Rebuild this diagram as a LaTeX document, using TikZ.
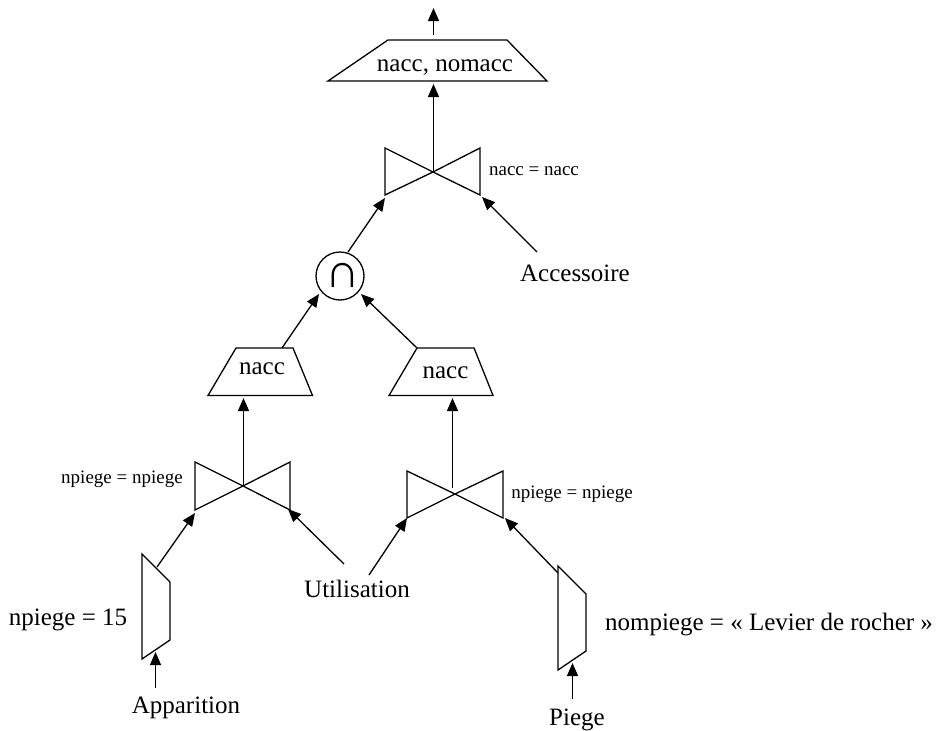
\documentclass[tikz,border=0pt]{standalone}
\usepackage{fontspec}
\setmainfont{Liberation Serif}
\usetikzlibrary{arrows.meta}
\tikzset{
  shapeline/.style={draw=black,line width=1.3pt,line join=miter},
  link/.style={draw=black,line width=1.3pt,-{Triangle[length=13pt,width=11pt]}},
  big/.style={inner sep=0pt,anchor=base,font=\fontsize{25}{28}\selectfont},
  small/.style={inner sep=0pt,anchor=base,font=\fontsize{19}{22}\selectfont},
}
\begin{document}
\begin{tikzpicture}[x=1pt,y=-1pt]
\useasboundingbox (0,0) rectangle (938,731);
% top projection
\coordinate (out) at (433.5,8);
\coordinate (outS) at (433.5,35);
\coordinate (p1a) at (388,40); \coordinate (p1b) at (507,40);
\coordinate (p1c) at (547,81); \coordinate (p1d) at (328,81);
\coordinate (p1in) at (433.5,84);
\draw[shapeline] (p1a) -- (p1b) -- (p1c) -- (p1d) -- cycle;
\node[big] (t1) at (445,71) {nacc, nomacc};
% top join
\coordinate (j1) at (433,172);
\coordinate (j1a) at (385,148); \coordinate (j1b) at (385,195);
\coordinate (j1c) at (480,148); \coordinate (j1d) at (480,195);
\coordinate (j1l) at (385,198); \coordinate (j1r) at (482,197);
\coordinate (j1top) at (433.5,172);
\draw[shapeline] (j1) -- (j1a) -- (j1b) -- (j1) -- (j1c) -- (j1d) -- cycle;
\node[small] (l1) at (534,175) {nacc = nacc};
\node[big] (acc) at (575,281) {Accessoire};
\coordinate (accS) at (537,252);
% intersection
\node[circle,draw=black,line width=1.3pt,minimum size=48pt,inner sep=0pt] (inter) at (340,276) {};
\node[inner sep=0pt,anchor=base,font=\fontsize{48}{48}\selectfont] (cap) at (343,287) {∩};
\coordinate (interS) at (348,252);
\coordinate (interL) at (319,294); \coordinate (interR) at (361,294);
% left projection
\coordinate (p2a) at (236,348); \coordinate (p2b) at (293,348);
\coordinate (p2c) at (312.5,395.5); \coordinate (p2d) at (208,395.5);
\coordinate (p2in) at (243.5,398); \coordinate (p2S) at (282,348);
\draw[shapeline] (p2a) -- (p2b) -- (p2c) -- (p2d) -- cycle;
\node[big] (t2) at (262,374) {nacc};
% right projection
\coordinate (p3a) at (417,348); \coordinate (p3b) at (474,348);
\coordinate (p3c) at (493,395.5); \coordinate (p3d) at (389,395.5);
\coordinate (p3in) at (452.5,398); \coordinate (p3S) at (417,348);
\draw[shapeline] (p3a) -- (p3b) -- (p3c) -- (p3d) -- cycle;
\node[big] (t3) at (445.5,378) {nacc};
% left join
\coordinate (j2) at (243,486);
\coordinate (j2top) at (243.5,486);
\coordinate (j2a) at (195,462); \coordinate (j2b) at (195,510);
\coordinate (j2c) at (290,462); \coordinate (j2d) at (290,510);
\coordinate (j2l) at (195,513); \coordinate (j2r) at (288,509);
\draw[shapeline] (j2) -- (j2a) -- (j2b) -- (j2) -- (j2c) -- (j2d) -- cycle;
\node[small] (l2) at (122,483) {npiege = npiege};
% right join
\coordinate (j3) at (455,494);
\coordinate (j3top) at (452.5,488);
\coordinate (j3a) at (407,471); \coordinate (j3b) at (407,518);
\coordinate (j3c) at (503,471); \coordinate (j3d) at (503,518);
\coordinate (j3l) at (407,518); \coordinate (j3r) at (505,518);
\draw[shapeline] (j3) -- (j3a) -- (j3b) -- (j3) -- (j3c) -- (j3d) -- cycle;
\node[small] (l3) at (572,498) {npiege = npiege};
% left selection
\coordinate (s1a) at (142,554); \coordinate (s1b) at (170,582);
\coordinate (s1c) at (170,640); \coordinate (s1d) at (142,659);
\coordinate (s1S) at (157,567); \coordinate (s1in) at (155.5,652);
\draw[shapeline] (s1a) -- (s1b) -- (s1c) -- (s1d) -- cycle;
\node[big] (c1) at (68,625) {npiege = 15};
\node[big] (app) at (186,713) {Apparition};
\coordinate (appS) at (155.5,688);
% utilisation
\node[big] (uti) at (357,597) {Utilisation};
\coordinate (utiL) at (344,564); \coordinate (utiR) at (369,575);
% right selection
\coordinate (s2a) at (558,566); \coordinate (s2b) at (586,594);
\coordinate (s2c) at (586,651); \coordinate (s2d) at (558,670);
\coordinate (s2S) at (558,573); \coordinate (s2in) at (572.5,663);
\draw[shapeline] (s2a) -- (s2b) -- (s2c) -- (s2d) -- cycle;
\node[big] (c2) at (769,630) {nompiege = « Levier de rocher »};
\node[big] (pie) at (577,725) {Piege};
\coordinate (pieS) at (572.5,699);
% connectors
\draw[link] (outS) -- (out);
\draw[link] (j1top) -- (p1in);
\draw[link] (interS) -- (j1l);
\draw[link] (accS) -- (j1r);
\draw[link] (p2S) -- (interL);
\draw[link] (p3S) -- (interR);
\draw[link] (j2top) -- (p2in);
\draw[link] (j3top) -- (p3in);
\draw[link] (s1S) -- (j2l);
\draw[link] (utiL) -- (j2r);
\draw[link] (utiR) -- (j3l);
\draw[link] (s2S) -- (j3r);
\draw[link] (appS) -- (s1in);
\draw[link] (pieS) -- (s2in);
\end{tikzpicture}
\end{document}
